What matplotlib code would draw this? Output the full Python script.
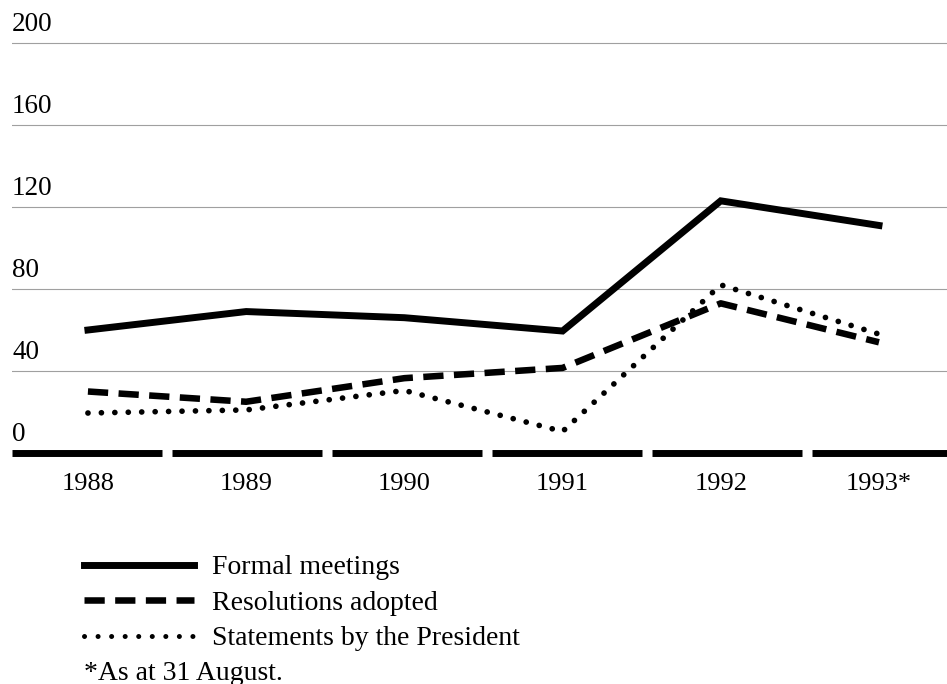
import matplotlib
matplotlib.use("Agg")
import matplotlib.pyplot as plt
import matplotlib.transforms as mtransforms
from matplotlib.lines import Line2D

plt.rcParams['font.family'] = ['Liberation Serif', 'DejaVu Serif']

years = ["1988", "1989", "1990", "1991", "1992", "1993*"]
formal_meetings = [60, 69, 66, 59.5, 123, 111]
resolutions_adopted = [30, 25, 36.5, 41.5, 73, 54]
statements_president = [19.5, 21, 30.5, 10.5, 82, 58]
y_ticks = [0, 40, 80, 120, 160, 200]
series_labels = ["Formal meetings", "Resolutions adopted", "Statements by the President"]
footnote = "*As at 31 August."

W, H = 947, 684
fig = plt.figure(figsize=(W / 100, H / 100), dpi=100)
# data 0 at pixel 453, 2.05 px per unit
ylo, yhi = -4, 205
bottom_px = 453 + 4 * 2.05
top_px = 453 - 205 * 2.05
ax = fig.add_axes([12 / W, 1 - bottom_px / H, 1 - 12 / W, (bottom_px - top_px) / H])
ax.set_ylim(ylo, yhi)
x = list(range(len(years)))
ax.set_xlim(-0.48, 5.43)

# gridlines
for v in y_ticks[1:]:
    ax.axhline(v, color="#a0a0a0", lw=0.8, zorder=1)

# thick dashed baseline
ax.axhline(0, color="black", lw=5.0, dashes=(21.6, 1.44), solid_capstyle="butt",
           dash_capstyle="butt", zorder=2)

black = "black"
solid_kw = dict(color=black, lw=5.0, solid_joinstyle="miter")
dash_kw = dict(color=black, lw=4.7, dashes=(3.1, 1.6), dash_capstyle="butt")
dot_kw = dict(color=black, lw=4.1, dashes=(0.01, 2.35), dash_capstyle="round")

ax.plot(x, formal_meetings, zorder=3, **solid_kw)
ax.plot(x, resolutions_adopted, zorder=3, **dash_kw)
ax.plot(x, statements_president, zorder=3, **dot_kw)

# y tick labels drawn above the gridlines at the left
tr = mtransforms.offset_copy(ax.get_yaxis_transform(), fig=fig, x=0, y=8.8, units="points")
for v in y_ticks:
    ax.text(0, v, str(v), transform=tr, ha="left", va="baseline", fontsize=19.5)

ax.set_xticks(x)
ax.set_xticklabels(years, fontsize=19)
ax.tick_params(axis="x", length=0, pad=8.5)
ax.set_yticks([])
for s in ax.spines.values():
    s.set_visible(False)

# legend
leg_dot_kw = dict(dot_kw, lw=3.6, dashes=(0.01, 2.7))
handles = [
    Line2D([], [], **solid_kw),
    Line2D([], [], **dash_kw),
    Line2D([], [], **leg_dot_kw),
]
leg = fig.legend(handles, series_labels, loc="upper left",
                 bbox_to_anchor=(84 / W, 1 - 555 / H), frameon=False,
                 fontsize=20, handlelength=3.95, handletextpad=0.65,
                 labelspacing=0.36, borderpad=0, borderaxespad=0)
fig.text(84 / W, 1 - 673 / H, footnote, fontsize=20, ha="left", va="center")

fig.savefig("out.png", dpi=100)
